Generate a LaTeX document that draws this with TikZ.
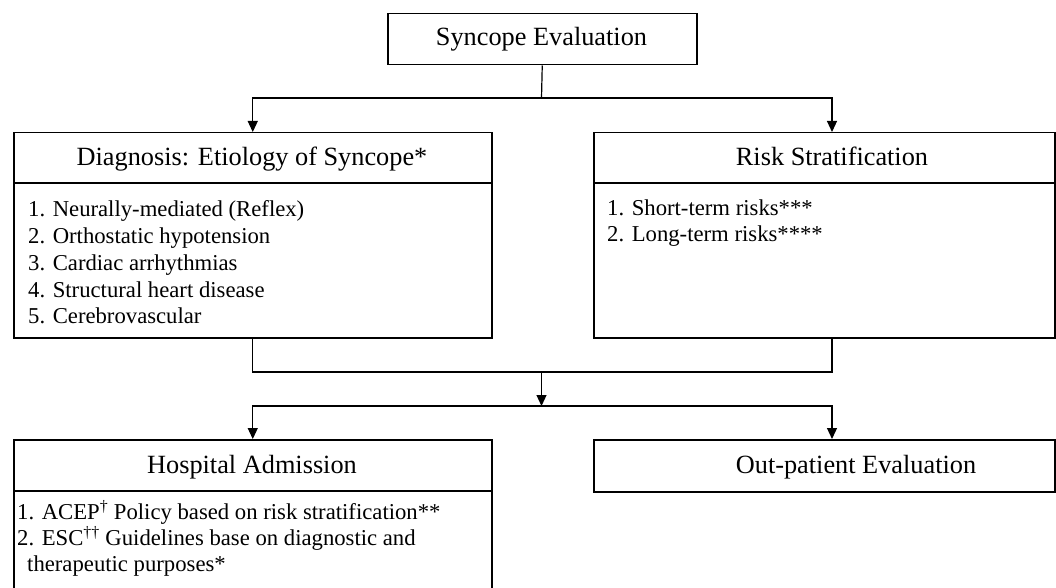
\documentclass[tikz,border=0pt]{standalone}
\usepackage{fontspec}
\setmainfont{Liberation Serif}
\usetikzlibrary{arrows.meta}
\tikzset{
  box/.style={draw=black, line width=1.5pt, rectangle, inner sep=0pt, anchor=north west},
  divider/.style={draw=black, line width=1.5pt},
  conn/.style={draw=black, line width=1.2pt},
  arr/.style={conn, -{Triangle[width=10pt,length=11pt]}},
  title/.style={inner sep=0pt, anchor=base, font=\fontsize{26.3}{30}\selectfont},
  item/.style={inner sep=0pt, anchor=base west, font=\fontsize{22.7}{26}\selectfont},
}
\begin{document}
\begin{tikzpicture}[x=1pt, y=-1pt]
\useasboundingbox (0,0) rectangle (1056,588);
\clip (0,0) rectangle (1056,588);
% boxes
\node[box, minimum width=309pt, minimum height=51pt] (top) at (387,13) {};
\node[box, minimum width=478pt, minimum height=205pt] (diag) at (13,132) {};
\node[box, minimum width=461pt, minimum height=205pt] (risk) at (593,132) {};
\node[box, minimum width=478pt, minimum height=200pt] (hosp) at (13,439) {};
\node[box, minimum width=461pt, minimum height=52pt] (outp) at (593,439) {};
% dividers
\draw[divider] (13,183) -- (491,183);
\draw[divider] (593,183) -- (1054,183);
\draw[divider] (13,491) -- (491,491);
% titles
\node[title] (ttop) at (541.5,46) {Syncope Evaluation};
\node[title] (tdiag) at (252,166) {Diagnosis: Etiology of Syncope*};
\node[title] (trisk) at (832,166) {Risk Stratification};
\node[title] (thosp) at (252,473) {Hospital Admission};
\node[title] (toutp) at (856,473) {Out-patient Evaluation};
% lists
\node[item] (d1) at (28,216) {1. Neurally-mediated (Reflex)};
\node[item] (d2) at (28,243) {2. Orthostatic hypotension};
\node[item] (d3) at (28,270) {3. Cardiac arrhythmias};
\node[item] (d4) at (28,297) {4. Structural heart disease};
\node[item] (d5) at (28,323) {5. Cerebrovascular};
\node[item] (r1) at (607,215) {1. Short-term risks***};
\node[item] (r2) at (607,241) {2. Long-term risks****};
\node[item] (h1) at (17,519) {1. ACEP\textsuperscript{†} Policy based on risk stratification**};
\node[item] (h2) at (17,545) {2. ESC\textsuperscript{††} Guidelines base on diagnostic and};
\node[item] (h3) at (27,571) {therapeutic purposes*};
% connector points
\coordinate (split) at (541.5,98);
\coordinate (riskin) at (832,132);
\coordinate (riskout) at (832,337);
\coordinate (merge) at (541.5,372);
\coordinate (split2) at (541.5,406);
\coordinate (outin) at (832,439);
% connectors
\draw[conn] (top.south) -- (split);
\draw[arr] (split) -| (diag.north);
\draw[arr] (split) -| (riskin);
\draw[conn] (diag.south) |- (merge) -| (riskout);
\draw[arr] (merge) -- (split2);
\draw[arr] (split2) -| (hosp.north);
\draw[arr] (split2) -| (outin);
\end{tikzpicture}
\end{document}
